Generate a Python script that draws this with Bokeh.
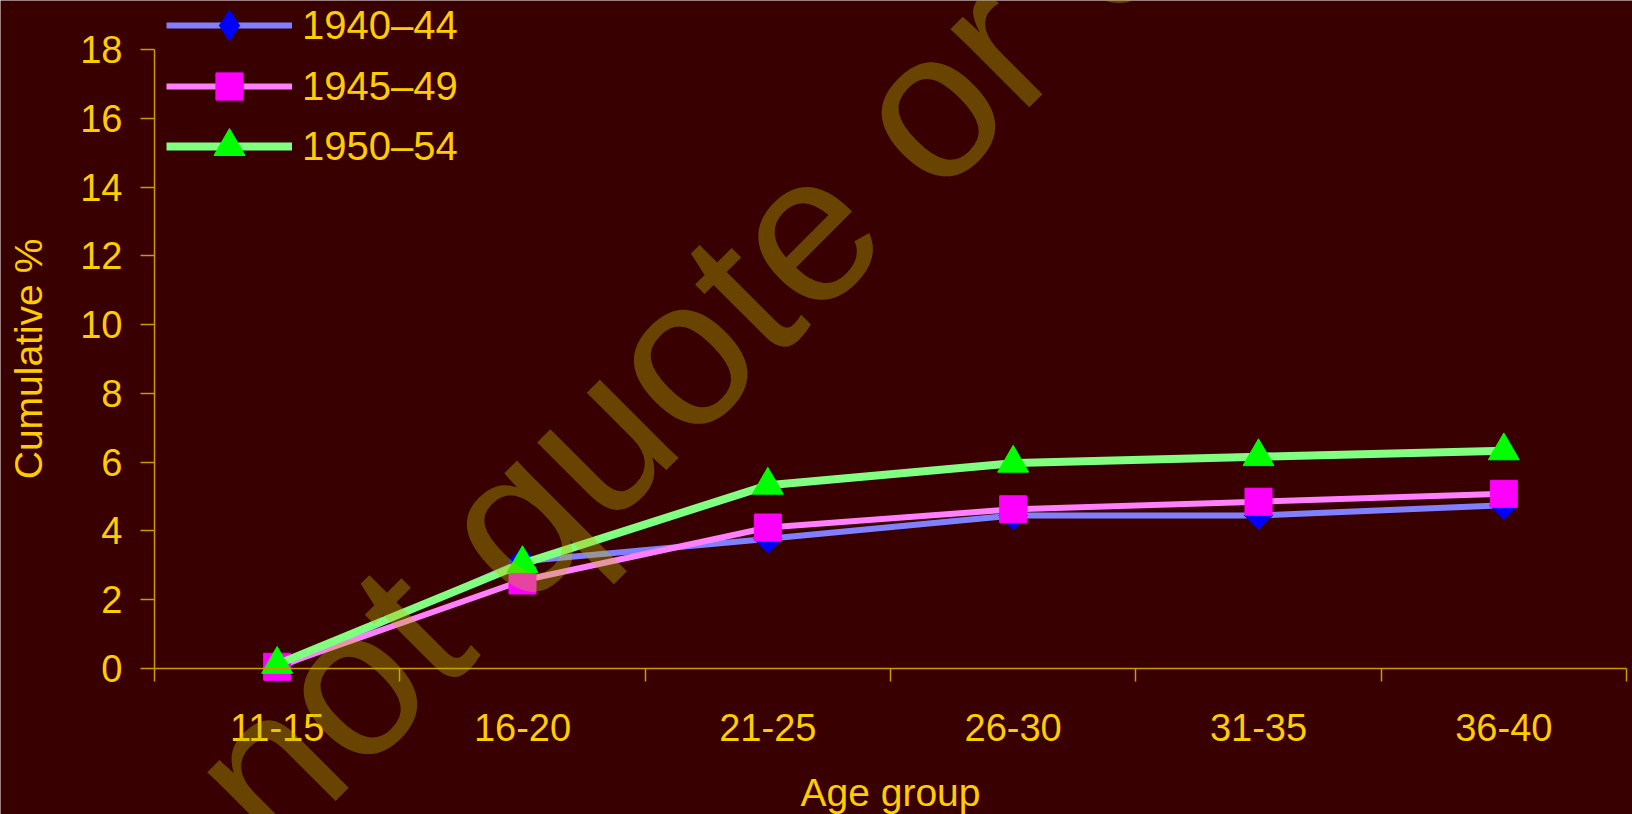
import numpy as np
from bokeh.plotting import figure
from bokeh.models import (Range1d, FixedTicker, CustomJSTickFormatter, Legend,
                          LegendItem, Label)
from bokeh.embed import file_html
from bokeh.resources import INLINE

# ---- data ----
age_groups = ["11-15", "16-20", "21-25", "26-30", "31-35", "36-40"]
cohort_1940_44 = [0.0, 3.12, 3.77, 4.45, 4.45, 4.75]
cohort_1945_49 = [0.05, 2.56, 4.10, 4.63, 4.85, 5.08]
cohort_1950_54 = [0.12, 3.05, 5.33, 5.97, 6.16, 6.33]
series_labels = ["1940\u201344", "1945\u201349", "1950\u201354"]
y_ticks = [0, 2, 4, 6, 8, 10, 12, 14, 16, 18]

GOLD = "#ffcc00"
AXIS = "#cc9900"
BG = "#380000"
FONT = "Liberation Sans"

# ---- layout constants (pixels on the canvas) ----
W, H = 1632, 814
AX_LEFT, AX_RIGHT, AX_ZERO, AX_TOP = 154, 1626, 668, 49

n = len(age_groups)
y_max = y_ticks[-1]
sx = (AX_RIGHT - AX_LEFT) / n
sy = (AX_ZERO - AX_TOP) / y_max
x = [i + 0.5 for i in range(n)]

p = figure(width=W, height=H, output_backend="svg", toolbar_location=None,
           x_range=Range1d(-AX_LEFT / sx, n + (W - AX_RIGHT) / sx),
           y_range=Range1d(-(H - AX_ZERO) / sy, y_max + AX_TOP / sy),
           min_border=0)
p.background_fill_color = BG
p.border_fill_color = BG
p.outline_line_color = None
p.grid.visible = False

# ---- x axis: labels at category centres, ticks at category boundaries ----
xa = p.xaxis[0]
xa.fixed_location = 0
xa.bounds = (0, n)
xa.ticker = FixedTicker(ticks=x, minor_ticks=list(range(n + 1)))
xa.formatter = CustomJSTickFormatter(args=dict(labels=age_groups),
                                     code="return labels[Math.round(tick - 0.5)]")
xa.major_tick_out = 0
xa.major_tick_in = 0
xa.minor_tick_out = 13
xa.minor_tick_in = 0
xa.minor_tick_line_color = AXIS
xa.minor_tick_line_width = 1.5
xa.axis_line_color = AXIS
xa.axis_line_width = 1.5
xa.major_label_standoff = 32
xa.major_label_text_font = FONT
xa.major_label_text_font_size = "38px"
xa.major_label_text_color = GOLD
xa.axis_label = "Age group"
xa.axis_label_standoff = 27
xa.axis_label_text_font = FONT
xa.axis_label_text_font_size = "39px"
xa.axis_label_text_font_style = "normal"
xa.axis_label_text_color = GOLD

# ---- y axis ----
ya = p.yaxis[0]
ya.fixed_location = 0
ya.bounds = (0, y_max)
ya.ticker = FixedTicker(ticks=y_ticks)
ya.major_tick_out = 14
ya.major_tick_in = 0
ya.major_tick_line_color = AXIS
ya.major_tick_line_width = 1.5
ya.minor_tick_line_color = None
ya.axis_line_color = AXIS
ya.axis_line_width = 1.5
ya.major_label_standoff = 18
ya.major_label_text_font = FONT
ya.major_label_text_font_size = "38px"
ya.major_label_text_color = GOLD
ya.axis_label = "Cumulative %"
ya.axis_label_standoff = 27
ya.axis_label_text_font = FONT
ya.axis_label_text_font_size = "39px"
ya.axis_label_text_font_style = "normal"
ya.axis_label_text_color = GOLD

# ---- series ----
l1 = p.line(x, cohort_1940_44, line_color="#8080ff", line_width=6)
m1 = p.scatter(x, cohort_1940_44, marker="square", angle=np.pi / 4, size=20,
               fill_color="#0000ff", line_color="#0000ff")
# diamond swatch for the legend (zero size in the plot; the legend sizes it)
m1_key = p.scatter(x, cohort_1940_44, marker="diamond", size=0,
                   fill_color="#0000ff", line_color=None)
l2 = p.line(x, cohort_1945_49, line_color="#ff80ff", line_width=6)
m2 = p.scatter(x, cohort_1945_49, marker="square", size=27,
               fill_color="#ff00ff", line_color="#ff00ff")
l3 = p.line(x, cohort_1950_54, line_color="#80ff80", line_width=8)
m3 = p.scatter(x, cohort_1950_54, marker="triangle", size=31,
               fill_color="#00ff00", line_color="#00ff00")

# ---- watermark ----
WM_X, WM_Y = 641, 392   # pixel anchor of the watermark text
wm = Label(x=(WM_X - AX_LEFT) / sx, y=(AX_ZERO - WM_Y) / sy,
           x_units="data", y_units="data",
           text="Do not quote or cite", angle=np.pi / 4,
           text_align="center", text_baseline="alphabetic",
           text_font=FONT, text_font_size="210px",
           text_color="#beb800", text_alpha=0.37)
p.add_layout(wm)

# ---- legend (one per entry so each keeps its own marker size) ----
entries = [(series_labels[0], [l1, m1_key], 25, 80),
           (series_labels[1], [l2, m2], 86, 68),
           (series_labels[2], [l3, m3], 146, 78)]
for label, rends, yc, gh in entries:
    lg = Legend(items=[LegendItem(label=label, renderers=rends)],
                location=(166, H - yc - gh / 2), orientation="vertical",
                padding=0, spacing=0, margin=0, glyph_width=126,
                glyph_height=gh, label_height=gh, label_standoff=10,
                label_text_font=FONT, label_text_font_size="40px",
                label_text_color=GOLD, border_line_color=None,
                background_fill_alpha=0)
    p.add_layout(lg)

open("out.html", "w").write(file_html(p, INLINE))
